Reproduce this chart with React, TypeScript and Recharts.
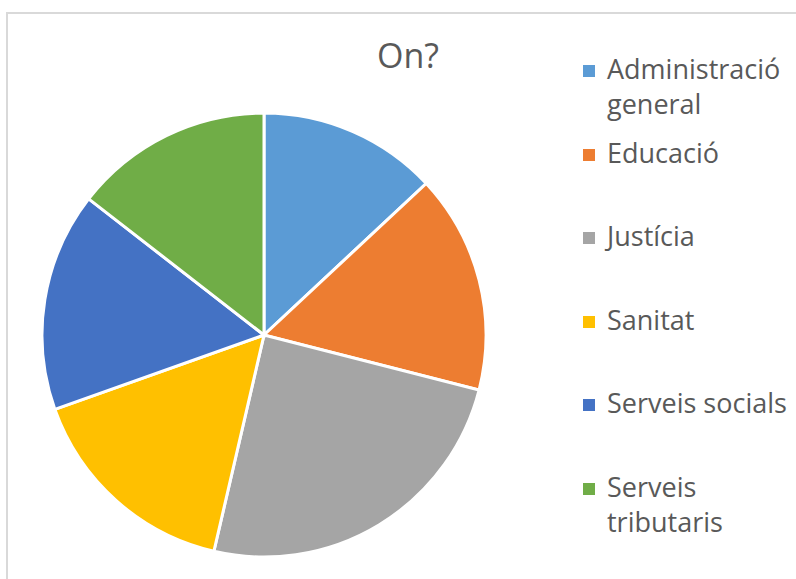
import React from "react";
import { PieChart, Pie, Cell, Legend } from "recharts";

const categories = [
  "Administració general",
  "Educació",
  "Justícia",
  "Sanitat",
  "Serveis socials",
  "Serveis tributaris",
];
const values = [9, 11, 17, 11, 11, 10];
const colors = ["#5B9BD5", "#ED7D31", "#A5A5A5", "#FFC000", "#4472C4", "#70AD47"];
const labelLines = [
  ["Administració", "general"],
  ["Educació"],
  ["Justícia"],
  ["Sanitat"],
  ["Serveis socials"],
  ["Serveis", "tributaris"],
];

const data = categories.map((name, i) => ({ name, value: values[i] }));

const font = "'Open Sans', 'Noto Sans', sans-serif";

const renderLegend = () => (
  <div style={{ fontFamily: font, color: "#595959", fontSize: 27 }}>
    {categories.map((c, i) => (
      <div key={c} style={{ height: 83.5, display: "flex", alignItems: "flex-start" }}>
        <div
          style={{
            width: 12,
            height: 12,
            background: colors[i],
            marginTop: 14,
            marginRight: 12,
            flexShrink: 0,
          }}
        />
        <div style={{ lineHeight: "35px", whiteSpace: "nowrap" }}>
          {labelLines[i].map((l) => (
            <div key={l}>{l}</div>
          ))}
        </div>
      </div>
    ))}
  </div>
);

const App: React.FC = () => {
  return (
    <div style={{ position: "absolute", left: 0, top: 0, width: 796, height: 579, overflow: "hidden", background: "#fff" }}>
      <div
        style={{
          position: "absolute",
          left: 6,
          top: 12,
          width: 820,
          height: 620,
          border: "2px solid #d9d9d9",
        }}
      />
      <div
        style={{
          position: "absolute",
          left: 0,
          top: 32,
          width: 816,
          textAlign: "center",
          fontFamily: font,
          fontSize: 34,
          color: "#595959",
        }}
      >
        On?
      </div>
      <div style={{ position: "absolute", left: 0, top: 0 }}>
        <PieChart width={796} height={579} margin={{ top: 0, right: 0, bottom: 0, left: 0 }}>
          <Pie
            data={data}
            dataKey="value"
            nameKey="name"
            cx={264}
            cy={335}
            outerRadius={222}
            startAngle={90}
            endAngle={-270}
            stroke="#fff"
            strokeWidth={3}
            isAnimationActive={false}
          >
            {data.map((d, i) => (
              <Cell key={d.name} fill={colors[i]} />
            ))}
          </Pie>
          <Legend
            layout="vertical"
            verticalAlign="top"
            align="right"
            content={renderLegend}
            wrapperStyle={{ left: 583, top: 51, width: 213 }}
          />
        </PieChart>
      </div>
    </div>
  );
};

export default App;
